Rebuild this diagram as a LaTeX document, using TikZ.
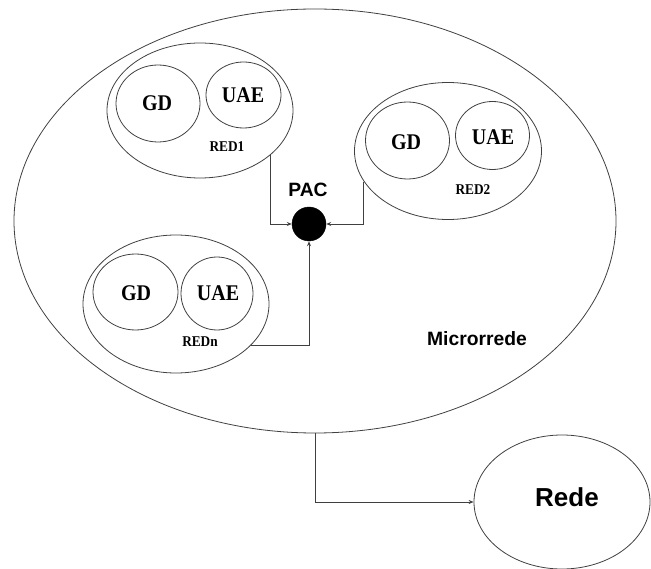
\documentclass[tikz,border=0pt]{standalone}
\usepackage{graphicx}
\usepackage{fontspec}
\setmainfont{Liberation Serif}
\setsansfont{Liberation Sans}
\usetikzlibrary{shapes.geometric,arrows.meta}
% serif labels are set slightly taller than their natural shape
\newcommand\tallstr[1]{\scalebox{1}[1.12]{#1}}
\begin{document}
\begin{tikzpicture}[x=1pt,y=-1pt,
  line/.style={draw=black!75,line width=0.8pt},
  oval/.style={ellipse,line,inner sep=0pt},
  unit/.style={font=\bfseries\fontsize{20}{21}\selectfont},
  redlabel/.style={font=\bfseries\fontsize{13.3}{14}\selectfont},
  sanslabel/.style={font=\sffamily\bfseries\fontsize{19.3}{20}\selectfont},
  link/.style={line,-{Stealth[length=5pt,width=4pt]}}]
\useasboundingbox (0,0) rectangle (651,569);

% Microgrid boundary
\node[oval,minimum width=602pt,minimum height=424pt] (micro) at (315,221) {};
\node[sanslabel] (microtxt) at (477,339) {Microrrede};

% RED1
\node[oval,minimum width=186pt,minimum height=135pt] (red1) at (200,110.5) {};
\node[oval,minimum width=84pt,minimum height=77pt] (gd1) at (158,103.5) {};
\node[oval,minimum width=75pt,minimum height=66pt] (uae1) at (243.5,95) {};
\node[unit] (gd1t) at (157,103) {\tallstr{GD}};
\node[unit] (uae1t) at (243,95) {\tallstr{UAE}};
\node[redlabel] (red1t) at (227,147) {\tallstr{RED1}};

% RED2
\node[oval,minimum width=187pt,minimum height=137pt] (red2) at (448,151) {};
\node[oval,minimum width=84pt,minimum height=77pt] (gd2) at (407.5,140.5) {};
\node[oval,minimum width=74pt,minimum height=68pt] (uae2) at (492.5,135.5) {};
\node[unit] (gd2t) at (406,142) {\tallstr{GD}};
\node[unit] (uae2t) at (493,137) {\tallstr{UAE}};
\node[redlabel] (red2t) at (473,190) {\tallstr{RED2}};

% REDn
\node[oval,minimum width=186pt,minimum height=138pt] (redn) at (176,304) {};
\node[oval,minimum width=85pt,minimum height=76pt] (gdn) at (135.5,292) {};
\node[oval,minimum width=72pt,minimum height=73pt] (uaen) at (217,293.5) {};
\node[unit] (gdnt) at (136,293) {\tallstr{GD}};
\node[unit] (uaent) at (218,293) {\tallstr{UAE}};
\node[redlabel] (rednt) at (200,342) {\tallstr{REDn}};

% Point of common coupling
\node[circle,fill=black,draw=black,inner sep=0pt,minimum size=34pt] (pac) at (309,224) {};
\node[sanslabel] (pactxt) at (308,190) {PAC};

% Main grid
\node[oval,minimum width=176pt,minimum height=134pt] (rede) at (562,502) {};
\node[font=\sffamily\bfseries\fontsize{26}{28}\selectfont] (redetxt) at (567,497) {Rede};

% Connections
\draw[link] (red1.-32.4) |- (pac.west);
\draw[link] (red2.200.3) |- (pac.east);
\draw[link] (redn.-29.6) -| (pac.south);
\draw[link] (micro.south) |- (rede.west);
\end{tikzpicture}
\end{document}
